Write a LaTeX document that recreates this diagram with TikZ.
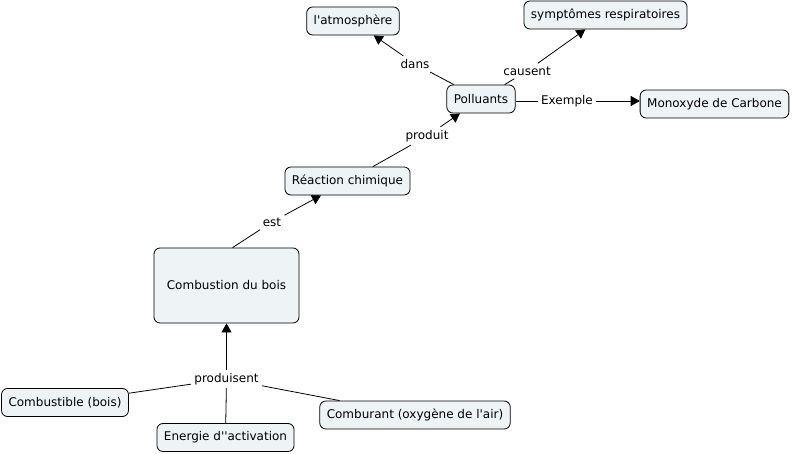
\documentclass[tikz,border=0pt]{standalone}
\usepackage{fontspec}
\setmainfont{DejaVu Sans}[Ligatures=TeXOff]
\usetikzlibrary{arrows.meta}
\definecolor{cfill}{RGB}{238,243,245}
\tikzstyle{arrow} = [-{Triangle[length=9pt,width=10pt]}]
\tikzstyle{concept} = [rectangle, rounded corners=6pt, minimum height=28pt,
inner xsep=7pt, text centered, draw=black, fill=cfill, anchor=center]
\tikzstyle{linkword} = [inner sep=3pt, fill=white]

\begin{document}
\begin{tikzpicture}[x=1pt, y=-1pt, font=\fontsize{12}{14}\selectfont, line width=0.8pt]
      \useasboundingbox (0,0) rectangle (792,454);
      \node (0) [concept] at (353,21) { l'atmosphère };
      \node (1) [concept] at (605.5,15) { symptômes respiratoires };
      \node (2) [concept] at (481,99) { Polluants };
      \node (3) [concept] at (714.5,104) { Monoxyde de Carbone };
      \node (4) [concept] at (347.5,181) { Réaction chimique };
      \node (5) [concept, minimum width=145pt, minimum height=75pt] at (226.5,285.5) { Combustion du bois };
      \node (6) [concept] at (65,402.5) { Combustible (bois) };
      \node (7) [concept] at (225.5,437.5) { Energie d''activation };
      \node (8) [concept] at (415,415) { Comburant (oxygène de l'air) };

      \node (dans) [linkword] at (415,64) { dans };
      \node (causent) [linkword] at (527,71) { causent };
      \node (exemple) [linkword] at (567,101) { Exemple };
      \node (produit) [linkword] at (427,136) { produit };
      \node (est) [linkword] at (272,222) { est };
      \node (produisent) [linkword] at (226.5,379) { produisent };

      \draw (2) -- (dans);
      \draw [arrow] (dans) -- (0);
      \draw (2) -- (causent);
      \draw [arrow] (causent) -- (1);
      \draw (2.east |- exemple) -- (exemple);
      \draw [arrow] (exemple) -- (3.west |- exemple);
      \draw (4) -- (produit);
      \draw [arrow] (produit) -- (2);
      \draw ([xshift=6pt]5.north) -- (est);
      \draw [arrow] (est) -- (4);
      \draw (6) -- (produisent);
      \draw (7) -- (produisent);
      \draw (8) -- (produisent);
      \draw [arrow] (produisent) -- (5);
    \end{tikzpicture}
\end{document}
